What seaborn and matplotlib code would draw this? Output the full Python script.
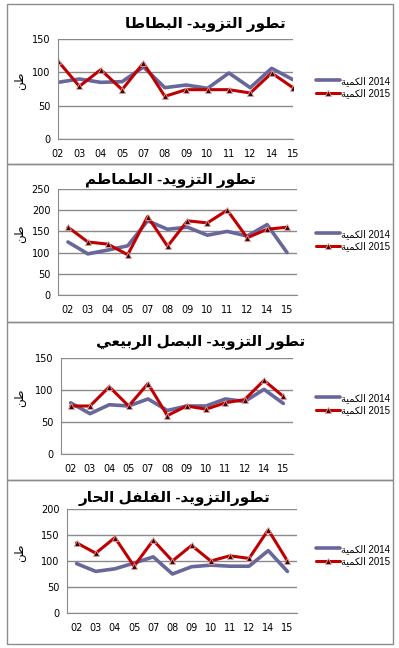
import numpy as np
import pandas as pd
import seaborn as sns
import matplotlib.pyplot as plt
from matplotlib.patches import Rectangle
from matplotlib.ticker import FixedLocator

# Data
months = ['02', '03', '04', '05', '07', '08', '09', '10', '11', '12', '14', '15']

potato_2014 = [85, 90, 85, 86, 108, 77, 81, 76, 99, 77, 106, 89]
potato_2015 = [117, 79, 104, 74, 114, 64, 74, 74, 74, 69, 99, 77]

tomato_2014 = [125, 97, 106, 116, 175, 155, 160, 141, 150, 139, 166, 100]
tomato_2015 = [160, 125, 120, 95, 185, 115, 175, 170, 200, 135, 155, 160]

onion_2014 = [80, 63, 77, 75, 86, 68, 75, 75, 86, 82, 101, 79]
onion_2015 = [75, 75, 105, 75, 110, 60, 75, 70, 80, 85, 115, 90]

pepper_2014 = [95, 80, 85, 96, 108, 75, 89, 92, 90, 90, 120, 80]
pepper_2015 = [135, 115, 145, 90, 140, 100, 130, 100, 110, 105, 160, 100]

titles = ['تطور التزويد- البطاطا', 'تطور التزويد- الطماطم',
          'تطور التزويد- البصل الربيعي', 'تطورالتزويد- الفلفل الحار']
y_label = 'طن'
qty_word = 'الكمية'
years = ['2014', '2015']

# matplotlib has no arabic shaping, so pick presentation forms by hand
FORMS = {
    'ا': ('\ufe8d', '\ufe8e', None, None),
    'ب': ('\ufe8f', '\ufe90', '\ufe91', '\ufe92'),
    'ة': ('\ufe93', '\ufe94', None, None),
    'ت': ('\ufe95', '\ufe96', '\ufe97', '\ufe98'),
    'ح': ('\ufea1', '\ufea2', '\ufea3', '\ufea4'),
    'د': ('\ufea9', '\ufeaa', None, None),
    'ر': ('\ufead', '\ufeae', None, None),
    'ز': ('\ufeaf', '\ufeb0', None, None),
    'ص': ('\ufeb9', '\ufeba', '\ufebb', '\ufebc'),
    'ط': ('\ufec1', '\ufec2', '\ufec3', '\ufec4'),
    'ع': ('\ufec9', '\ufeca', '\ufecb', '\ufecc'),
    'ف': ('\ufed1', '\ufed2', '\ufed3', '\ufed4'),
    'ك': ('\ufed9', '\ufeda', '\ufedb', '\ufedc'),
    'ل': ('\ufedd', '\ufede', '\ufedf', '\ufee0'),
    'م': ('\ufee1', '\ufee2', '\ufee3', '\ufee4'),
    'ن': ('\ufee5', '\ufee6', '\ufee7', '\ufee8'),
    'و': ('\ufeed', '\ufeee', None, None),
    'ي': ('\ufef1', '\ufef2', '\ufef3', '\ufef4'),
}


def shape_ar(text):
    """Join arabic letters and reverse them for left-to-right drawing."""
    out = []
    for i, ch in enumerate(text):
        if ch not in FORMS:
            out.append(ch)
            continue
        prev = text[i - 1] if i > 0 else ''
        nxt = text[i + 1] if i + 1 < len(text) else ''
        join_prev = prev in FORMS and FORMS[prev][2] is not None
        join_next = nxt in FORMS and FORMS[ch][2] is not None
        iso, fin, ini, med = FORMS[ch]
        if join_prev and join_next:
            out.append(med)
        elif join_prev:
            out.append(fin)
        elif join_next:
            out.append(ini)
        else:
            out.append(iso)
    return ''.join(out)[::-1]


sns.set_style('white')
plt.rcParams['font.family'] = ['Liberation Sans', 'DejaVu Sans']

W, H = 399, 648
fig = plt.figure(figsize=(W / 100, H / 100), dpi=100)


def fx(px):
    return px / W


def fy(px):
    return 1 - px / H


# layout in pixels: axes box, title centre, legend anchor, panel border
panels = [
    dict(data=(potato_2014, potato_2015), ymax=150, step=50, on_ticks=True,
         box=(58, 39, 293, 139), title=(205, 24), legend=(316, 87), border=(4, 164)),
    dict(data=(tomato_2014, tomato_2015), ymax=250, step=50, on_ticks=False,
         box=(58, 189, 297, 295), title=(170, 181), legend=(316, 240), border=(164, 322)),
    dict(data=(onion_2014, onion_2015), ymax=150, step=50, on_ticks=False,
         box=(61, 358, 293, 454), title=(201, 343), legend=(316, 404), border=(322, 480)),
    dict(data=(pepper_2014, pepper_2015), ymax=200, step=50, on_ticks=False,
         box=(67, 509, 297, 613), title=(175, 498), legend=(316, 555), border=(480, 644)),
]

c2014 = '#67679c'
c2015 = '#c00000'
grid_c = '#8a8a8a'

for p, title in zip(panels, titles):
    x0, y0, x1, y1 = p['box']
    ax = fig.add_axes([fx(x0), fy(y1), fx(x1) - fx(x0), fy(y0) - fy(y1)])

    df = pd.DataFrame({'pos': np.arange(len(months)),
                       'y2014': p['data'][0], 'y2015': p['data'][1]})
    sns.lineplot(data=df, x='pos', y='y2014', ax=ax, color=c2014, lw=2.6,
                 label=shape_ar(qty_word) + ' ' + years[0])
    sns.lineplot(data=df, x='pos', y='y2015', ax=ax, color=c2015, lw=2.2,
                 marker='^', markersize=4, markerfacecolor='#3a0a0a',
                 markeredgecolor='#e89a9a', markeredgewidth=0.6,
                 label=shape_ar(qty_word) + ' ' + years[1])

    ax.set_ylim(0, p['ymax'])
    ax.set_yticks(np.arange(0, p['ymax'] + 1, p['step']))
    ax.yaxis.grid(True, color=grid_c, lw=1)
    ax.set_axisbelow(True)
    ax.set_xlabel('')
    ax.set_ylabel('')

    n = len(months)
    ax.set_xticks(np.arange(n))
    ax.set_xticklabels(months)
    if p['on_ticks']:
        ax.set_xlim(0, n - 1)
        ax.tick_params(axis='x', length=3.5, width=0.8, color=grid_c, pad=4)
    else:
        ax.set_xlim(-0.5, n - 0.5)
        ax.xaxis.set_minor_locator(FixedLocator(np.arange(-0.5, n, 1)))
        ax.tick_params(axis='x', which='major', length=0, pad=7)
        ax.tick_params(axis='x', which='minor', length=3.5, width=0.8,
                       color=grid_c, direction='out')
    ax.tick_params(axis='y', length=3.5, width=0.8, color=grid_c, pad=2)
    ax.tick_params(labelsize=7, labelcolor='#000000')
    for lab in ax.get_xticklabels() + ax.get_yticklabels():
        lab.set_family('DejaVu Sans')

    for side in ['top', 'right']:
        ax.spines[side].set_visible(False)
    for side in ['left', 'bottom']:
        ax.spines[side].set_color(grid_c)
        ax.spines[side].set_linewidth(0.8)

    leg = ax.legend(loc='center left', bbox_to_anchor=(fx(p['legend'][0]), fy(p['legend'][1])),
                    bbox_transform=fig.transFigure, frameon=False, fontsize=7,
                    handlelength=2.5, handletextpad=0.1, labelspacing=0.25,
                    borderpad=0, borderaxespad=0)
    for t in leg.get_texts():
        t.set_color('#000000')

    fig.text(fx(p['title'][0]), fy(p['title'][1]), shape_ar(title),
             ha='center', va='center', fontsize=11, fontweight='bold', color='#000000')
    fig.text(fx(20), fy((y0 + y1) / 2 - 8), shape_ar(y_label), rotation=90,
             ha='center', va='center', fontsize=8.5, color='#000000')

    top, bottom = p['border']
    fig.patches.append(Rectangle((fx(7), fy(bottom)), fx(393) - fx(7), fy(top) - fy(bottom),
                                 transform=fig.transFigure, fill=False,
                                 edgecolor='#8c8c8c', lw=1))

fig.savefig('out.png', dpi=100)
